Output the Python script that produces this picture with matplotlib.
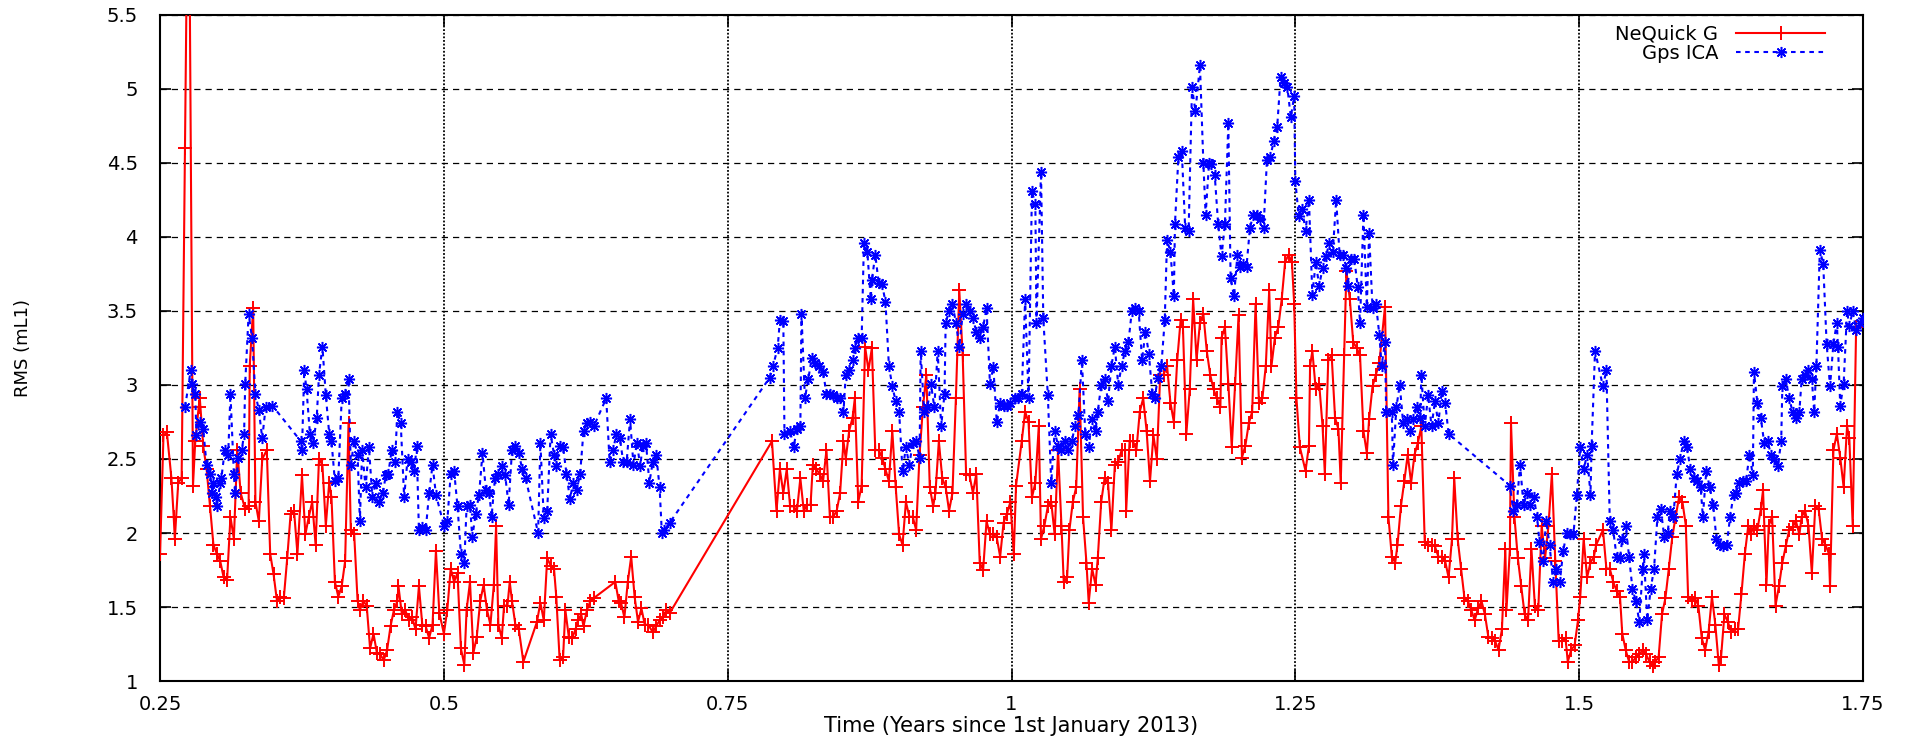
import matplotlib
matplotlib.use("Agg")
import matplotlib.pyplot as plt
from matplotlib.ticker import FuncFormatter

# NeQuick G daily RMS (time in years since 1st January 2013)
t_nequick = [
    0.250, 0.253, 0.256, 0.260, 0.262, 0.263, 0.266, 0.269, 0.272, 0.275, 0.279, 0.281, 0.284, 0.285,
    0.288, 0.291, 0.294, 0.297, 0.300, 0.303, 0.306, 0.309, 0.312, 0.315, 0.318, 0.321, 0.325, 0.328,
    0.329, 0.332, 0.334, 0.337, 0.340, 0.344, 0.347, 0.350, 0.353, 0.356, 0.359, 0.362, 0.365, 0.368,
    0.371, 0.375, 0.378, 0.381, 0.384, 0.387, 0.390, 0.393, 0.396, 0.399, 0.401, 0.404, 0.407, 0.410,
    0.413, 0.416, 0.418, 0.421, 0.424, 0.426, 0.429, 0.432, 0.435, 0.438, 0.441, 0.444, 0.447, 0.450,
    0.453, 0.456, 0.459, 0.460, 0.463, 0.466, 0.469, 0.472, 0.475, 0.478, 0.481, 0.484, 0.487, 0.490,
    0.493, 0.496,
    0.500, 0.503, 0.506, 0.509, 0.512, 0.515, 0.518, 0.520, 0.523, 0.526, 0.529, 0.532, 0.535, 0.538,
    0.541, 0.544, 0.546, 0.548, 0.551, 0.553, 0.556, 0.558, 0.560, 0.563, 0.566, 0.570, 0.582, 0.585,
    0.588, 0.591, 0.594, 0.597, 0.599, 0.602, 0.605, 0.607, 0.610, 0.613, 0.616, 0.618, 0.621, 0.623,
    0.626, 0.629, 0.632, 0.651, 0.654, 0.656, 0.659, 0.662, 0.665, 0.668, 0.671, 0.674, 0.677, 0.680,
    0.684, 0.687, 0.690, 0.693, 0.696, 0.699,
    0.789, 0.793, 0.796, 0.799, 0.802, 0.805, 0.808, 0.811, 0.814, 0.817, 0.820, 0.823, 0.825, 0.828,
    0.831, 0.834, 0.837, 0.840, 0.843, 0.846, 0.849, 0.852, 0.854, 0.857, 0.860, 0.862, 0.865, 0.868,
    0.871, 0.874, 0.877, 0.880, 0.883, 0.886, 0.889, 0.892, 0.895, 0.898, 0.901, 0.904, 0.907, 0.910,
    0.913, 0.916, 0.919, 0.922, 0.925, 0.928, 0.931, 0.933, 0.936, 0.939, 0.942, 0.945, 0.948, 0.951,
    0.954, 0.957, 0.960, 0.963, 0.966, 0.969, 0.972, 0.975, 0.978, 0.981, 0.984, 0.987, 0.990, 0.993,
    0.996, 0.999, 1.002, 1.004,
    1.009, 1.012, 1.015, 1.018, 1.021, 1.024, 1.026, 1.029, 1.032, 1.035, 1.038, 1.041, 1.044, 1.046,
    1.049, 1.051, 1.054, 1.057, 1.060, 1.063, 1.066, 1.068, 1.071, 1.074, 1.076, 1.079, 1.082, 1.085,
    1.088, 1.091, 1.094, 1.097, 1.100, 1.101, 1.104, 1.107, 1.110, 1.113, 1.116, 1.119, 1.122, 1.125,
    1.128, 1.131, 1.134, 1.137, 1.140, 1.143, 1.146, 1.149, 1.151, 1.154, 1.157, 1.160, 1.163, 1.166,
    1.169, 1.172, 1.175, 1.178, 1.181, 1.184, 1.185, 1.188, 1.191, 1.194, 1.197, 1.200, 1.203, 1.206,
    1.209, 1.212, 1.215, 1.218, 1.221, 1.224, 1.227, 1.229, 1.232, 1.235, 1.238, 1.241, 1.244, 1.247,
    1.249, 1.251, 1.254, 1.259, 1.262,
    1.263, 1.265, 1.268, 1.271, 1.274, 1.276, 1.279, 1.282, 1.285, 1.288, 1.290, 1.293, 1.295, 1.298,
    1.301, 1.304, 1.307, 1.310, 1.313, 1.315, 1.318, 1.321, 1.324, 1.329, 1.332, 1.335, 1.338, 1.340,
    1.343, 1.346, 1.349, 1.352, 1.355, 1.358, 1.361, 1.364, 1.367, 1.370, 1.373, 1.376, 1.379, 1.382,
    1.385, 1.388, 1.390, 1.393, 1.396, 1.399, 1.402, 1.405, 1.408, 1.411, 1.414, 1.417, 1.420, 1.423,
    1.426, 1.429, 1.432, 1.435, 1.436, 1.439, 1.440, 1.443, 1.446, 1.449, 1.452, 1.455, 1.458, 1.461,
    1.464, 1.467, 1.470, 1.473, 1.476, 1.479, 1.482, 1.485, 1.488, 1.490, 1.493, 1.496, 1.499, 1.501,
    1.504, 1.507, 1.510, 1.513, 1.515,
    1.521, 1.524, 1.527, 1.530, 1.533, 1.536, 1.538, 1.541, 1.544, 1.547, 1.550, 1.553, 1.556, 1.559,
    1.562, 1.565, 1.567, 1.570, 1.573, 1.576, 1.579, 1.582, 1.585, 1.588, 1.591, 1.594, 1.596, 1.599,
    1.602, 1.605, 1.608, 1.611, 1.614, 1.617, 1.620, 1.623, 1.625, 1.628, 1.631, 1.634, 1.637, 1.640,
    1.643, 1.646, 1.649, 1.651, 1.654, 1.657, 1.660, 1.662, 1.665, 1.667, 1.670, 1.673, 1.676, 1.679,
    1.682, 1.685, 1.688, 1.691, 1.694, 1.696, 1.699, 1.702, 1.705, 1.708, 1.711, 1.714, 1.717, 1.720,
    1.721, 1.724, 1.727, 1.730, 1.733, 1.736, 1.738, 1.741, 1.744,
]
rms_nequick = [
    1.86, 2.66, 2.68, 2.37, 2.11, 1.96, 2.34, 2.37, 4.60, 7.00, 2.32, 2.62, 2.85, 2.91,
    2.59, 2.43, 2.18, 1.92, 1.86, 1.81, 1.70, 1.68, 2.11, 1.96, 2.56, 2.27, 2.16, 2.18,
    3.13, 3.52, 2.21, 2.08, 2.50, 2.56, 1.86, 1.72, 1.54, 1.57, 1.56, 1.83, 2.13, 2.15,
    1.86, 2.39, 1.99, 2.11, 2.21, 1.92, 2.50, 2.46, 2.05, 2.34, 2.24, 1.67, 1.57, 1.64,
    1.81, 2.74, 2.02, 1.99, 1.54, 1.48, 1.54, 1.51, 1.22, 1.32, 1.19, 1.18, 1.14, 1.21,
    1.37, 1.48, 1.54, 1.64, 1.45, 1.48, 1.41, 1.43, 1.35, 1.64, 1.38, 1.37, 1.29, 1.38,
    1.88, 1.46,
    1.32, 1.48, 1.76, 1.67, 1.73, 1.22, 1.11, 1.48, 1.67, 1.19, 1.30, 1.54, 1.65, 1.48,
    1.38, 1.65, 2.05, 1.38, 1.29, 1.51, 1.51, 1.67, 1.54, 1.38, 1.35, 1.13, 1.40, 1.53,
    1.41, 1.83, 1.78, 1.76, 1.57, 1.14, 1.16, 1.48, 1.30, 1.29, 1.35, 1.41, 1.45, 1.37,
    1.48, 1.54, 1.56, 1.67, 1.54, 1.53, 1.43, 1.67, 1.84, 1.57, 1.40, 1.49, 1.38, 1.38,
    1.33, 1.37, 1.41, 1.43, 1.48, 1.46,
    2.62, 2.15, 2.43, 2.27, 2.43, 2.18, 2.18, 2.15, 2.37, 2.15, 2.19, 2.19, 2.46, 2.43,
    2.40, 2.35, 2.56, 2.11, 2.11, 2.15, 2.27, 2.62, 2.50, 2.69, 2.78, 2.91, 2.21, 2.32,
    3.26, 3.10, 3.25, 2.56, 2.56, 2.51, 2.43, 2.35, 2.69, 2.31, 1.99, 1.92, 2.21, 2.11,
    2.11, 2.02, 2.53, 2.85, 3.07, 2.31, 2.18, 2.27, 2.62, 2.37, 2.31, 2.15, 2.27, 2.91,
    3.64, 3.20, 2.40, 2.39, 2.27, 2.40, 1.80, 1.75, 2.08, 1.99, 1.99, 1.97, 1.84, 2.07,
    2.13, 2.21, 1.86, 2.32,
    2.62, 2.82, 2.75, 2.24, 2.34, 2.72, 1.96, 2.05, 2.18, 2.21, 1.99, 2.56, 2.05, 1.67,
    1.70, 2.02, 2.21, 2.31, 2.97, 2.11, 1.80, 1.53, 1.76, 1.65, 1.83, 2.21, 2.37, 2.34,
    2.02, 2.46, 2.48, 2.56, 2.56, 2.15, 2.62, 2.62, 2.56, 2.82, 2.91, 2.69, 2.35, 2.66,
    2.50, 3.07, 3.07, 3.13, 2.88, 2.75, 3.17, 3.44, 3.39, 2.67, 2.97, 3.58, 3.17, 3.42,
    3.48, 3.23, 3.07, 2.97, 2.91, 2.85, 3.32, 3.39, 3.01, 2.58, 3.01, 3.47, 2.51, 2.59,
    2.74, 2.82, 3.55, 2.88, 2.91, 3.13, 3.64, 3.13, 3.32, 3.39, 3.58, 3.83, 3.88, 3.83,
    3.55, 2.91, 2.58, 2.42, 2.59,
    3.13, 3.23, 2.97, 3.01, 2.72, 2.40, 3.17, 3.20, 2.78, 2.70, 2.34, 3.20, 3.77, 3.58,
    3.29, 3.25, 3.20, 2.69, 2.54, 2.77, 2.99, 3.07, 3.15, 3.53, 2.11, 1.84, 1.80, 1.92,
    2.18, 2.35, 2.53, 2.34, 2.53, 2.61, 2.72, 1.94, 1.92, 1.92, 1.91, 1.84, 1.84, 1.81,
    1.70, 1.96, 2.37, 1.96, 1.76, 1.56, 1.54, 1.48, 1.41, 1.49, 1.54, 1.45, 1.30, 1.29,
    1.27, 1.21, 1.35, 1.89, 1.48, 1.89, 2.74, 2.11, 1.83, 1.64, 1.45, 1.41, 1.89, 1.51,
    1.48, 2.05, 1.83, 2.05, 2.40, 1.81, 1.27, 1.27, 1.29, 1.13, 1.21, 1.24, 1.41, 1.57,
    1.96, 1.70, 1.80, 1.84, 1.92,
    2.02, 1.76, 1.76, 1.67, 1.61, 1.57, 1.32, 1.21, 1.13, 1.13, 1.16, 1.18, 1.21, 1.18,
    1.13, 1.10, 1.13, 1.16, 1.45, 1.56, 1.76, 1.97, 2.11, 2.24, 2.21, 2.05, 1.57, 1.54,
    1.56, 1.51, 1.29, 1.21, 1.33, 1.57, 1.38, 1.11, 1.16, 1.45, 1.40, 1.33, 1.35, 1.35,
    1.59, 1.86, 2.05, 1.99, 2.05, 2.02, 2.16, 2.29, 1.65, 2.05, 2.11, 1.51, 1.64, 1.80,
    1.91, 2.02, 2.04, 2.08, 1.99, 2.11, 2.15, 2.05, 1.73, 2.18, 2.16, 1.96, 1.92, 1.86,
    1.64, 2.56, 2.67, 2.51, 2.31, 2.72, 2.64, 2.05, 3.39,
]

# Gps ICA daily RMS
t_gps = [
    0.272, 0.277, 0.278, 0.281, 0.282, 0.285, 0.288, 0.291, 0.294, 0.296, 0.297, 0.299, 0.300, 0.303,
    0.304, 0.307, 0.310, 0.312, 0.315, 0.316, 0.319, 0.322, 0.324, 0.325, 0.328, 0.331, 0.334, 0.337,
    0.340, 0.343, 0.349, 0.374, 0.375, 0.377, 0.379, 0.382, 0.385, 0.388, 0.390, 0.393, 0.396, 0.399,
    0.401, 0.404, 0.407, 0.410, 0.413, 0.416, 0.418, 0.421, 0.424, 0.426, 0.428, 0.431, 0.434, 0.437,
    0.440, 0.443, 0.446, 0.449, 0.451, 0.454, 0.457, 0.459, 0.462, 0.465, 0.468, 0.471, 0.474, 0.476,
    0.478, 0.481, 0.484, 0.487, 0.490, 0.493,
    0.500, 0.503, 0.506, 0.509, 0.512, 0.515, 0.518, 0.520, 0.523, 0.525, 0.528, 0.531, 0.534, 0.537,
    0.540, 0.542, 0.545, 0.548, 0.551, 0.554, 0.557, 0.560, 0.563, 0.566, 0.569, 0.572, 0.583, 0.585,
    0.588, 0.591, 0.594, 0.597, 0.599, 0.602, 0.605, 0.608, 0.611, 0.614, 0.617, 0.620, 0.623, 0.626,
    0.629, 0.632, 0.643, 0.646, 0.649, 0.652, 0.655, 0.658, 0.661, 0.664, 0.667, 0.670, 0.673, 0.675,
    0.678, 0.681, 0.684, 0.687, 0.690, 0.692, 0.694, 0.699,
    0.787, 0.790, 0.794, 0.796, 0.799, 0.800, 0.805, 0.808, 0.811, 0.814, 0.815, 0.818, 0.821, 0.824,
    0.827, 0.830, 0.834, 0.837, 0.840, 0.843, 0.846, 0.849, 0.852, 0.854, 0.857, 0.860, 0.862, 0.865,
    0.868, 0.870, 0.873, 0.876, 0.877, 0.880, 0.883, 0.886, 0.889, 0.892, 0.895, 0.898, 0.901, 0.904,
    0.907, 0.910, 0.913, 0.916, 0.919, 0.920, 0.923, 0.926, 0.929, 0.932, 0.935, 0.938, 0.941, 0.942,
    0.945, 0.948, 0.951, 0.954, 0.957, 0.960, 0.963, 0.966, 0.969, 0.972, 0.975, 0.978, 0.981, 0.984,
    0.987, 0.990, 0.993, 0.996, 0.999, 1.003, 1.006,
    1.009, 1.012, 1.015, 1.018, 1.021, 1.022, 1.026, 1.028, 1.032, 1.035, 1.038, 1.041, 1.044, 1.047,
    1.050, 1.053, 1.056, 1.059, 1.062, 1.065, 1.068, 1.071, 1.074, 1.076, 1.079, 1.082, 1.085, 1.088,
    1.091, 1.094, 1.097, 1.100, 1.103, 1.106, 1.109, 1.112, 1.115, 1.118, 1.121, 1.124, 1.126, 1.129,
    1.132, 1.135, 1.137, 1.140, 1.143, 1.144, 1.147, 1.150, 1.153, 1.156, 1.159, 1.162, 1.166, 1.169,
    1.171, 1.174, 1.176, 1.179, 1.182, 1.185, 1.188, 1.191, 1.193, 1.196, 1.199, 1.201, 1.204, 1.207,
    1.210, 1.213, 1.216, 1.219, 1.222, 1.225, 1.228, 1.231, 1.234, 1.237, 1.240, 1.243, 1.246, 1.249,
    1.250, 1.253, 1.256, 1.259, 1.262,
    1.265, 1.268, 1.271, 1.274, 1.277, 1.280, 1.283, 1.286, 1.289, 1.292, 1.295, 1.296, 1.299, 1.302,
    1.305, 1.307, 1.310, 1.313, 1.315, 1.318, 1.321, 1.324, 1.326, 1.329, 1.330, 1.335, 1.336, 1.339,
    1.342, 1.345, 1.348, 1.351, 1.354, 1.357, 1.360, 1.361, 1.364, 1.367, 1.370, 1.373, 1.376, 1.379,
    1.382, 1.385, 1.439, 1.442, 1.445, 1.448, 1.451, 1.454, 1.457, 1.460, 1.463, 1.465, 1.468, 1.471,
    1.474, 1.477, 1.480, 1.483, 1.486, 1.489, 1.492, 1.495, 1.498, 1.501, 1.504, 1.507, 1.510, 1.511,
    1.514,
    1.521, 1.524, 1.527, 1.530, 1.533, 1.536, 1.538, 1.541, 1.544, 1.547, 1.550, 1.553, 1.556, 1.557,
    1.560, 1.563, 1.566, 1.569, 1.572, 1.575, 1.578, 1.580, 1.583, 1.586, 1.589, 1.592, 1.595, 1.598,
    1.601, 1.604, 1.607, 1.609, 1.612, 1.615, 1.618, 1.621, 1.624, 1.627, 1.630, 1.633, 1.636, 1.638,
    1.641, 1.644, 1.647, 1.650, 1.653, 1.654, 1.657, 1.660, 1.663, 1.666, 1.669, 1.672, 1.675, 1.678,
    1.679, 1.682, 1.685, 1.688, 1.691, 1.694, 1.696, 1.699, 1.702, 1.705, 1.707, 1.709, 1.712, 1.715,
    1.718, 1.721, 1.724, 1.727, 1.728, 1.730, 1.733, 1.736, 1.738, 1.741, 1.744, 1.747, 1.750,
]
rms_gps = [
    2.85, 3.10, 3.01, 2.94, 2.66, 2.75, 2.70, 2.46, 2.40, 2.27, 2.34, 2.24, 2.18, 2.34,
    2.37, 2.56, 2.53, 2.94, 2.40, 2.27, 2.51, 2.56, 2.67, 3.01, 3.48, 3.32, 2.94, 2.83,
    2.64, 2.85, 2.86, 2.62, 2.56, 3.10, 2.97, 2.67, 2.61, 2.78, 3.07, 3.26, 2.93, 2.67,
    2.62, 2.35, 2.37, 2.91, 2.94, 3.04, 2.46, 2.62, 2.53, 2.08, 2.56, 2.31, 2.58, 2.24,
    2.34, 2.21, 2.27, 2.39, 2.40, 2.56, 2.48, 2.82, 2.74, 2.24, 2.50, 2.48, 2.42, 2.59,
    2.02, 2.04, 2.02, 2.27, 2.46, 2.26,
    2.05, 2.08, 2.40, 2.42, 2.18, 1.86, 1.80, 2.18, 2.19, 1.97, 2.13, 2.26, 2.54, 2.29,
    2.27, 2.11, 2.37, 2.40, 2.45, 2.39, 2.19, 2.56, 2.59, 2.54, 2.43, 2.37, 2.00, 2.61,
    2.10, 2.15, 2.67, 2.53, 2.45, 2.59, 2.58, 2.40, 2.23, 2.34, 2.29, 2.40, 2.69, 2.74,
    2.75, 2.72, 2.91, 2.48, 2.56, 2.67, 2.64, 2.48, 2.48, 2.77, 2.46, 2.61, 2.45, 2.59,
    2.61, 2.34, 2.48, 2.53, 2.31, 2.00, 2.02, 2.07,
    3.05, 3.13, 3.25, 3.44, 3.43, 2.67, 2.69, 2.58, 2.70, 2.72, 3.48, 2.91, 3.04, 3.18,
    3.15, 3.13, 3.09, 2.94, 2.94, 2.93, 2.91, 2.91, 2.82, 3.07, 3.10, 3.17, 3.25, 3.32,
    3.32, 3.96, 3.90, 3.58, 3.71, 3.88, 3.69, 3.68, 3.56, 3.13, 2.99, 2.89, 2.82, 2.42,
    2.58, 2.46, 2.61, 2.62, 2.51, 3.23, 2.82, 2.85, 3.01, 2.85, 3.23, 2.72, 2.94, 3.42,
    3.50, 3.55, 3.42, 3.26, 3.48, 3.55, 3.50, 3.45, 3.36, 3.32, 3.39, 3.52, 3.01, 3.12,
    2.75, 2.88, 2.86, 2.86, 2.88, 2.91, 2.91,
    2.94, 3.58, 2.91, 4.31, 4.22, 3.42, 4.44, 3.45, 2.93, 2.34, 2.69, 2.59, 2.56, 2.62,
    2.56, 2.62, 2.72, 2.80, 3.17, 2.67, 2.58, 2.77, 2.69, 2.82, 3.00, 3.04, 2.89, 3.13,
    3.26, 3.00, 3.13, 3.23, 3.29, 3.50, 3.52, 3.50, 3.17, 3.36, 3.21, 2.94, 2.91, 3.05,
    3.13, 3.44, 3.98, 3.90, 3.60, 4.09, 4.54, 4.58, 4.06, 4.04, 5.01, 4.85, 5.16, 4.50,
    4.15, 4.50, 4.49, 4.42, 4.09, 3.87, 4.09, 4.77, 3.72, 3.60, 3.88, 3.80, 3.82, 3.80,
    4.06, 4.15, 4.15, 4.12, 4.06, 4.52, 4.54, 4.65, 4.74, 5.08, 5.04, 5.01, 4.81, 4.95,
    4.38, 4.14, 4.19, 4.04, 4.25,
    3.61, 3.83, 3.67, 3.79, 3.87, 3.96, 3.90, 4.25, 3.88, 3.88, 3.79, 3.67, 3.85, 3.85,
    3.66, 3.42, 4.15, 3.53, 4.03, 3.52, 3.55, 3.34, 3.13, 3.29, 2.82, 2.82, 2.46, 2.85,
    3.00, 2.74, 2.77, 2.69, 2.77, 2.85, 2.78, 3.07, 2.72, 2.93, 2.72, 2.89, 2.74, 2.96,
    2.88, 2.67, 2.32, 2.15, 2.19, 2.46, 2.19, 2.27, 2.19, 2.24, 2.11, 1.94, 1.81, 2.08,
    1.92, 1.67, 1.76, 1.67, 1.88, 2.00, 1.99, 1.99, 2.26, 2.58, 2.43, 2.53, 2.26, 2.59,
    3.23,
    2.99, 3.10, 2.08, 2.02, 1.84, 1.83, 1.96, 2.05, 1.84, 1.62, 1.54, 1.40, 1.76, 1.86,
    1.41, 1.62, 1.76, 2.11, 2.16, 1.97, 2.00, 2.15, 2.11, 2.40, 2.50, 2.62, 2.58, 2.43,
    2.37, 2.35, 2.31, 2.11, 2.42, 2.31, 2.19, 1.96, 1.92, 1.91, 1.92, 2.11, 2.26, 2.27,
    2.34, 2.35, 2.35, 2.53, 2.39, 3.09, 2.88, 2.78, 2.61, 2.62, 2.53, 2.50, 2.45, 2.62,
    2.99, 3.04, 2.91, 2.82, 2.78, 2.82, 3.04, 3.07, 3.10, 3.04, 2.82, 3.13, 3.91, 3.82,
    3.28, 2.99, 3.28, 3.42, 3.26, 2.86, 3.01, 3.50, 3.40, 3.50, 3.37, 3.42, 3.45,
]

x_ticks = [0.25, 0.5, 0.75, 1.0, 1.25, 1.5, 1.75]
y_ticks = [1, 1.5, 2, 2.5, 3, 3.5, 4, 4.5, 5, 5.5]

plt.rcParams['font.family'] = ['DejaVu Sans']

fig = plt.figure(figsize=(19.17, 7.36), dpi=100)
ax = fig.add_axes([0.0835, 0.0747, 0.8883, 0.905])

ax.plot(t_nequick, rms_nequick, color='#ff0000', lw=1.5, marker='+', ms=10, mew=1.4,
        label='NeQuick G', zorder=3)
ax.plot(t_gps, rms_gps, color='#0000ff', lw=1.5, ls=(0, (2.2, 2.2)), marker=(8, 2, 0), ms=8,
        mew=1.1, label='Gps ICA', zorder=4)

ax.set_xlim(0.25, 1.75)
ax.set_ylim(1, 5.5)
ax.set_xticks(x_ticks)
ax.set_yticks(y_ticks)
fmt = FuncFormatter(lambda v, p: f'{v:g}')
ax.xaxis.set_major_formatter(fmt)
ax.yaxis.set_major_formatter(fmt)
ax.tick_params(direction='in', length=8, width=1.2, labelsize=14, top=True, right=True)
ax.tick_params(axis='y', pad=16)
ax.tick_params(axis='x', pad=10)

# gnuplot-like grid
ax.yaxis.grid(True, color='black', ls=(0, (5, 4)), lw=0.9)
ax.xaxis.grid(True, color='black', ls=(0, (1, 1)), lw=1.3)
ax.set_axisbelow(True)
for s in ax.spines.values():
    s.set_linewidth(1.5)

ax.set_xlabel('Time (Years since 1st January 2013)', fontsize=15)
ax.xaxis.set_label_coords(0.5, -0.052)
ax.set_ylabel('RMS (mL1)', fontsize=13)
ax.yaxis.set_label_coords(-0.075, 0.5)

leg = ax.legend(loc='upper right', bbox_to_anchor=(0.9836, 1.0), markerfirst=False,
                fontsize=14, handlelength=4.6, labelspacing=0.0, borderaxespad=0.3,
                borderpad=0.2, handletextpad=0.9, frameon=True, fancybox=False)
leg.get_frame().set_facecolor('white')
leg.get_frame().set_edgecolor('none')
leg.get_frame().set_alpha(1)

fig.savefig('out.png', dpi=100)
